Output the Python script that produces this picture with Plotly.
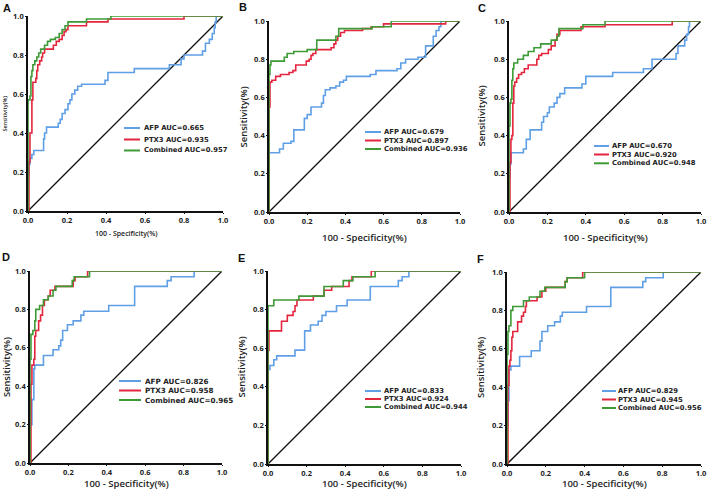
import plotly.graph_objects as go

W, H = 708, 491

PANELS = ["A", "B", "C", "D", "E", "F"]
AFP_AUC = [0.665, 0.679, 0.670, 0.826, 0.833, 0.829]
PTX3_AUC = [0.935, 0.897, 0.920, 0.958, 0.924, 0.945]
COMB_AUC = [0.957, 0.936, 0.948, 0.965, 0.944, 0.956]
TICKS = [0.0, 0.2, 0.4, 0.6, 0.8, 1.0]
TICK_LABELS = ["0.0", "0.2", "0.4", "0.6", "0.8", "1.0"]
X_TITLE = "100 - Specificity(%)"
Y_TITLE = "Sensitivity(%)"

# ---- Panel A ----
A_AFP_FPR = [0, 0, 0.005, 0.01, 0.02, 0.03, 0.08, 0.085, 0.095, 0.155, 0.165, 0.175, 0.19, 0.205, 0.215, 0.225, 0.24, 0.255, 0.275, 0.395, 0.41, 0.545, 0.725, 0.785, 0.80, 0.895, 0.91, 0.93, 0.945, 0.955, 0.96, 0.965, 1.0]
A_AFP_TPR = [0, 0.18, 0.24, 0.27, 0.29, 0.31, 0.37, 0.40, 0.43, 0.45, 0.47, 0.50, 0.52, 0.55, 0.57, 0.60, 0.62, 0.64, 0.65, 0.67, 0.71, 0.73, 0.75, 0.78, 0.80, 0.82, 0.86, 0.88, 0.91, 0.94, 0.97, 1.0, 1.0]
A_PTX_FPR = [0, 0.005, 0.01, 0.02, 0.025, 0.04, 0.045, 0.05, 0.06, 0.07, 0.075, 0.085, 0.13, 0.145, 0.16, 0.175, 0.185, 0.195, 0.205, 0.30, 0.41, 0.80, 1.0]
A_PTX_TPR = [0, 0.25, 0.40, 0.57, 0.66, 0.68, 0.72, 0.75, 0.77, 0.79, 0.81, 0.83, 0.85, 0.87, 0.88, 0.90, 0.92, 0.93, 0.95, 0.97, 0.985, 1.0, 1.0]
A_CMB_FPR = [0, 0, 0.01, 0.015, 0.02, 0.025, 0.035, 0.045, 0.055, 0.065, 0.085, 0.10, 0.115, 0.14, 0.16, 0.175, 0.19, 0.205, 0.30, 0.425, 1.0]
A_CMB_TPR = [0, 0.57, 0.59, 0.69, 0.72, 0.75, 0.77, 0.79, 0.81, 0.83, 0.85, 0.87, 0.88, 0.89, 0.91, 0.93, 0.95, 0.97, 0.985, 1.0, 1.0]

# ---- Panel B ----
B_AFP_FPR = [0, 0, 0.055, 0.075, 0.115, 0.13, 0.185, 0.20, 0.22, 0.275, 0.285, 0.295, 0.32, 0.35, 0.37, 0.39, 0.405, 0.53, 0.56, 0.67, 0.69, 0.715, 0.78, 0.82, 0.86, 0.875, 0.89, 0.90, 1.0]
B_AFP_TPR = [0, 0.31, 0.33, 0.36, 0.37, 0.43, 0.49, 0.51, 0.55, 0.57, 0.61, 0.64, 0.65, 0.66, 0.68, 0.69, 0.71, 0.72, 0.74, 0.75, 0.78, 0.80, 0.81, 0.87, 0.92, 0.95, 0.97, 1.0, 1.0]
B_PTX_FPR = [0, 0, 0.005, 0.015, 0.035, 0.06, 0.105, 0.125, 0.14, 0.195, 0.21, 0.22, 0.23, 0.245, 0.325, 0.34, 0.35, 0.36, 0.375, 0.395, 0.49, 0.535, 0.60, 0.925, 1.0]
B_PTX_TPR = [0, 0.55, 0.68, 0.69, 0.71, 0.72, 0.73, 0.74, 0.77, 0.79, 0.80, 0.82, 0.83, 0.85, 0.86, 0.88, 0.90, 0.92, 0.94, 0.95, 0.96, 0.97, 0.985, 1.0, 1.0]
B_CMB_FPR = [0, 0, 0.005, 0.01, 0.08, 0.095, 0.13, 0.20, 0.25, 0.35, 0.365, 0.54, 0.64, 1.0]
B_CMB_TPR = [0, 0.72, 0.77, 0.79, 0.81, 0.83, 0.84, 0.85, 0.90, 0.92, 0.96, 0.97, 1.0, 1.0]

# ---- Panel C ----
C_AFP_FPR = [0, 0, 0.005, 0.01, 0.075, 0.09, 0.11, 0.17, 0.18, 0.20, 0.21, 0.235, 0.25, 0.265, 0.29, 0.38, 0.40, 0.54, 0.70, 0.745, 0.87, 0.88, 0.915, 0.925, 0.935, 0.94, 1.0]
C_AFP_TPR = [0, 0.18, 0.25, 0.31, 0.33, 0.38, 0.43, 0.47, 0.50, 0.52, 0.55, 0.57, 0.60, 0.62, 0.65, 0.67, 0.71, 0.73, 0.75, 0.80, 0.83, 0.87, 0.90, 0.93, 0.97, 1.0, 1.0]
C_PTX_FPR = [0, 0.005, 0.01, 0.015, 0.02, 0.025, 0.03, 0.04, 0.05, 0.065, 0.08, 0.10, 0.145, 0.155, 0.17, 0.205, 0.22, 0.24, 0.25, 0.265, 0.375, 0.50, 0.85, 1.0]
C_PTX_TPR = [0, 0.26, 0.38, 0.40, 0.57, 0.66, 0.68, 0.70, 0.72, 0.73, 0.75, 0.77, 0.80, 0.82, 0.83, 0.85, 0.87, 0.90, 0.93, 0.95, 0.97, 0.98, 1.0, 1.0]
C_CMB_FPR = [0, 0, 0.005, 0.01, 0.015, 0.02, 0.025, 0.045, 0.075, 0.10, 0.13, 0.165, 0.22, 0.25, 0.26, 0.385, 0.50, 1.0]
C_CMB_TPR = [0, 0.45, 0.57, 0.59, 0.69, 0.75, 0.78, 0.80, 0.82, 0.84, 0.86, 0.88, 0.90, 0.92, 0.96, 0.98, 1.0, 1.0]

# ---- Panel D ----
D_AFP_FPR = [0, 0, 0.01, 0.02, 0.025, 0.07, 0.12, 0.15, 0.16, 0.17, 0.195, 0.225, 0.265, 0.28, 0.41, 0.545, 0.715, 0.735, 0.855, 1.0]
D_AFP_TPR = [0, 0.20, 0.33, 0.49, 0.51, 0.56, 0.59, 0.61, 0.64, 0.69, 0.72, 0.74, 0.77, 0.79, 0.82, 0.92, 0.95, 0.97, 1.0, 1.0]
D_PTX_FPR = [0, 0.005, 0.01, 0.02, 0.025, 0.03, 0.045, 0.055, 0.065, 0.075, 0.095, 0.105, 0.13, 0.225, 0.235, 0.30, 1.0]
D_PTX_TPR = [0, 0.41, 0.51, 0.54, 0.66, 0.69, 0.74, 0.77, 0.82, 0.85, 0.87, 0.90, 0.92, 0.95, 0.97, 1.0, 1.0]
D_CMB_FPR = [0, 0, 0.005, 0.015, 0.025, 0.03, 0.05, 0.07, 0.095, 0.12, 0.135, 0.22, 0.23, 0.31, 1.0]
D_CMB_TPR = [0, 0.54, 0.67, 0.69, 0.74, 0.80, 0.82, 0.85, 0.87, 0.90, 0.92, 0.95, 0.97, 1.0, 1.0]

# ---- Panel E ----
E_AFP_FPR = [0, 0, 0.01, 0.03, 0.045, 0.14, 0.19, 0.22, 0.26, 0.28, 0.30, 0.355, 0.41, 0.53, 0.675, 0.695, 0.73, 1.0]
E_AFP_TPR = [0, 0.49, 0.51, 0.54, 0.56, 0.59, 0.69, 0.72, 0.74, 0.77, 0.79, 0.82, 0.85, 0.92, 0.95, 0.97, 1.0, 1.0]
E_PTX_FPR = [0, 0, 0.005, 0.07, 0.10, 0.13, 0.14, 0.15, 0.235, 0.29, 0.33, 0.42, 0.435, 0.535, 1.0]
E_PTX_TPR = [0, 0.59, 0.69, 0.74, 0.77, 0.79, 0.82, 0.85, 0.87, 0.90, 0.92, 0.95, 0.97, 1.0, 1.0]
E_CMB_FPR = [0, 0, 0.03, 0.16, 0.29, 0.39, 0.44, 0.555, 1.0]
E_CMB_TPR = [0, 0.82, 0.85, 0.87, 0.92, 0.95, 0.97, 1.0, 1.0]

# ---- Panel F ----
F_AFP_FPR = [0, 0, 0.005, 0.01, 0.02, 0.065, 0.125, 0.17, 0.18, 0.21, 0.245, 0.275, 0.285, 0.41, 0.535, 0.70, 0.715, 0.805, 1.0]
F_AFP_TPR = [0, 0.20, 0.33, 0.49, 0.51, 0.56, 0.59, 0.64, 0.69, 0.72, 0.74, 0.77, 0.79, 0.82, 0.92, 0.95, 0.97, 1.0, 1.0]
F_PTX_FPR = [0, 0.005, 0.01, 0.015, 0.02, 0.025, 0.03, 0.055, 0.075, 0.085, 0.095, 0.10, 0.155, 0.18, 0.20, 0.30, 0.31, 0.39, 1.0]
F_PTX_TPR = [0, 0.41, 0.51, 0.54, 0.59, 0.66, 0.69, 0.74, 0.77, 0.79, 0.82, 0.85, 0.87, 0.90, 0.92, 0.95, 0.97, 1.0, 1.0]
F_CMB_FPR = [0, 0, 0.005, 0.01, 0.02, 0.03, 0.085, 0.115, 0.17, 0.195, 0.30, 0.31, 0.40, 1.0]
F_CMB_TPR = [0, 0.57, 0.69, 0.72, 0.80, 0.82, 0.85, 0.87, 0.90, 0.92, 0.95, 0.97, 1.0, 1.0]

AFP_FPR = [A_AFP_FPR, B_AFP_FPR, C_AFP_FPR, D_AFP_FPR, E_AFP_FPR, F_AFP_FPR]
AFP_TPR = [A_AFP_TPR, B_AFP_TPR, C_AFP_TPR, D_AFP_TPR, E_AFP_TPR, F_AFP_TPR]
PTX_FPR = [A_PTX_FPR, B_PTX_FPR, C_PTX_FPR, D_PTX_FPR, E_PTX_FPR, F_PTX_FPR]
PTX_TPR = [A_PTX_TPR, B_PTX_TPR, C_PTX_TPR, D_PTX_TPR, E_PTX_TPR, F_PTX_TPR]
CMB_FPR = [A_CMB_FPR, B_CMB_FPR, C_CMB_FPR, D_CMB_FPR, E_CMB_FPR, F_CMB_FPR]
CMB_TPR = [A_CMB_TPR, B_CMB_TPR, C_CMB_TPR, D_CMB_TPR, E_CMB_TPR, F_CMB_TPR]

BLUE = "#5f9fe6"
RED = "#e3263e"
GREEN = "#3e9a36"
FONT = "Open Sans"
LFONT = "DejaVu Sans"

# layout geometry (pixels): x0, x1, ytop, ybottom
BOX = [(28, 223, 16, 211), (269, 460, 21, 212), (509, 701, 21, 212),
       (30, 222, 271, 463), (268, 461, 271, 464), (507, 701, 272, 464)]
# legend: line x0, line x1, text x, row y's, font size
LEG = [(124, 140, 143, (128, 139.5, 150.5), 6.8),
       (365, 381, 383, (132, 140.5, 149), 6.8),
       (594, 609, 611, (146, 154.5, 163.3), 6.8),
       (119, 141, 144, (381, 390.5, 400), 7.2),
       (365, 381, 383, (391, 399, 407), 6.8),
       (602, 616, 617, (391, 399.5, 408), 6.8)]
LETTER_POS = [(7, 8), (243, 7), (482, 8), (6, 257), (241, 258), (480, 259)]
YTITLE_X = [5, 243, 481, 6, 241, 480]
XTITLE_Y = [233, 238, 238, 483, 483, 483]
TITLE_SIZE = [(5.5, 7), (9.5, 9.5), (9.5, 9.5), (9.3, 9.5), (9.5, 9.5), (9.5, 9.5)]


def px(x):
    return x / W


def py(y):
    return 1 - y / H


fig = go.Figure()
shapes = []
annotations = []

for i, p in enumerate(PANELS):
    n = "" if i == 0 else str(i + 1)
    xa, ya = "x" + n, "y" + n
    x0, x1, yt, yb = BOX[i]
    fig.add_trace(go.Scatter(x=[0, 1], y=[0, 1], xaxis=xa, yaxis=ya, mode="lines",
                             line=dict(color="#111111", width=1.3), showlegend=False, hoverinfo="skip"))
    for fpr, tpr, col, nm in ((AFP_FPR[i], AFP_TPR[i], BLUE, f"AFP AUC={AFP_AUC[i]:.3f}"),
                              (PTX_FPR[i], PTX_TPR[i], RED, f"PTX3 AUC={PTX3_AUC[i]:.3f}"),
                              (CMB_FPR[i], CMB_TPR[i], GREEN, f"Combined AUC={COMB_AUC[i]:.3f}")):
        fig.add_trace(go.Scatter(x=fpr, y=tpr, xaxis=xa, yaxis=ya, mode="lines", name=nm,
                                 line=dict(color=col, width=1.6, shape="hv"), showlegend=False))
    axcommon = dict(range=[0, 1], tickvals=TICKS, ticktext=TICK_LABELS, showgrid=False, zeroline=False,
                    showline=True, linecolor="#111111", linewidth=1.5, ticks="outside", ticklen=1,
                    tickcolor="#111111", tickfont=dict(family=FONT, size=7.5, color="#222222", weight=700),
                    fixedrange=True, automargin=False)
    fig.update_layout({
        "xaxis" + n: dict(domain=[px(x0), px(x1)], anchor=ya, **axcommon),
        "yaxis" + n: dict(domain=[py(yb), py(yt)], anchor=xa, **axcommon),
    })
    # panel letter
    annotations.append(dict(text=f"<b>{p}</b>", x=px(LETTER_POS[i][0]), y=py(LETTER_POS[i][1]), xref="paper", yref="paper",
                            showarrow=False, font=dict(family="Liberation Sans", size=11, color="#111111"),
                            xanchor="center", yanchor="middle"))
    ys, xs = TITLE_SIZE[i]
    annotations.append(dict(text=Y_TITLE, x=px(YTITLE_X[i]), y=py((yt + yb) / 2), xref="paper", yref="paper",
                            textangle=-90, showarrow=False,
                            font=dict(family=FONT, size=ys, color="#222222", weight=600),
                            xanchor="center", yanchor="middle", borderpad=0))
    annotations.append(dict(text=X_TITLE, x=px((x0 + x1) / 2), y=py(XTITLE_Y[i]), xref="paper", yref="paper",
                            showarrow=False, font=dict(family=FONT, size=xs, color="#222222", weight=600),
                            xanchor="center", yanchor="middle", borderpad=0))
    # legend
    lx0, lx1, tx, rows, fs = LEG[i]
    labels = [f"AFP AUC={AFP_AUC[i]:.3f}", f"PTX3 AUC={PTX3_AUC[i]:.3f}", f"Combined AUC={COMB_AUC[i]:.3f}"]
    for col, lab, ry in zip((BLUE, RED, GREEN), labels, rows):
        shapes.append(dict(type="line", xref="paper", yref="paper", x0=px(lx0), x1=px(lx1), y0=py(ry), y1=py(ry),
                           line=dict(color=col, width=2)))
        annotations.append(dict(text=lab, x=px(tx), y=py(ry), xref="paper", yref="paper", showarrow=False,
                                font=dict(family=LFONT, size=fs, color="#222222", weight=700),
                                xanchor="left", yanchor="middle", borderpad=0))

fig.update_layout(width=W, height=H, margin=dict(l=0, r=0, t=0, b=0, pad=0), paper_bgcolor="white",
                  plot_bgcolor="white", shapes=shapes, annotations=annotations, showlegend=False)
# remove the browser's default 8px page margin so the figure sits at the window's top-left corner
fig.write_html("out.html", config={"displayModeBar": False},
               post_script="document.body.style.margin='0';document.body.style.overflow='hidden';")
